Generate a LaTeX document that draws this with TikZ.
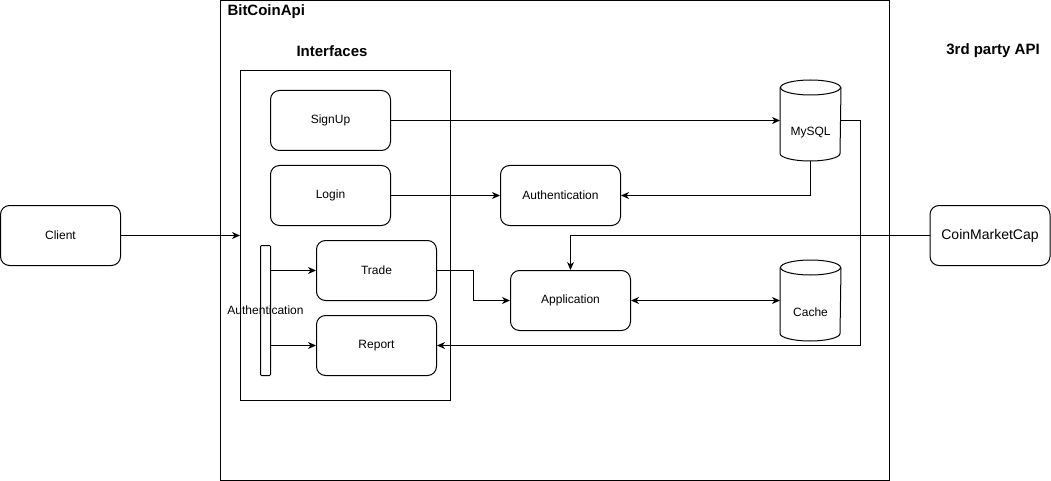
\documentclass[tikz,border=0pt]{standalone}
\usepackage{fontspec}
\setmainfont{Liberation Sans}
\usetikzlibrary{arrows.meta}
\begin{document}
\begin{tikzpicture}[x=1pt,y=-1pt,
  line width=1pt,
  every node/.style={font=\fontsize{12}{14}\selectfont},
  box/.style={draw,rounded corners=9pt,minimum width=120pt,minimum height=60pt,inner sep=0pt},
  frame/.style={draw,inner sep=0pt},
  title/.style={font=\fontsize{15}{17}\selectfont\bfseries,inner sep=0pt},
  arr/.style={-{Stealth[length=8pt,width=7pt,inset=2.5pt]}},
  darr/.style={{Stealth[length=8pt,width=7pt,inset=2.5pt]}-{Stealth[length=8pt,width=7pt,inset=2.5pt]}},
  cyl/.style={minimum width=60pt,minimum height=80pt,inner sep=0pt}
]
\useasboundingbox (0,0) rectangle (1051,481);
% frames
\draw (220.5,0.5) rectangle (889.5,480.5);
\node[title,anchor=west] (bca) at (227,12) {BitCoinApi};
\node[title] (ifl) at (332,51) {Interfaces};
\node[title] (tpl) at (993,51) {3rd party API};
\node[frame,minimum width=210pt,minimum height=330pt] (ifc) at (345.5,235.5) {};
% boxes
\node[box] (client) at (60.5,235.5) {Client};
\node[box] (signup) at (330.5,120.5) {SignUp};
\node[box] (login) at (330.5,195.5) {Login};
\node[box] (trade) at (376.5,270.5) {Trade};
\node[box] (report) at (376.5,345.5) {Report};
\node[box] (auth) at (560.5,195.5) {Authentication};
\node[box] (app) at (570.5,300.5) {Application};
\node[box,font=\fontsize{14}{16}\selectfont] (cmc) at (990,235.5) {CoinMarketCap};
% auth bar
\node[draw,rounded corners=1pt,minimum width=10pt,minimum height=130pt,inner sep=0pt] (abar) at (265.5,310.5) {};
\node (abarl) at (265.5,310.5) {Authentication};
% cylinders
\node[cyl] (mysql) at (810.5,120.5) {};
\node[cyl] (cache) at (810.5,300.5) {};
\foreach \c in {mysql,cache}{
  \draw ([yshift=-7.5pt]\c.north west) -- ([yshift=7.5pt]\c.south west)
     arc[start angle=180,end angle=360,x radius=30pt,y radius=7.5pt]
     -- ([yshift=-7.5pt]\c.north east);
  \draw ([yshift=-7.5pt]\c.north) ellipse[x radius=30pt,y radius=7.5pt];
}
\node (mysqlt) at (810.5,132.5) {MySQL};
\node (cachet) at (810.5,312.5) {Cache};
% connectors
\draw[arr] (client.east) -- (ifc.west |- client.east);
\draw[arr] (signup.east) -- (mysql.west |- signup.east);
\draw[arr] (login.east) -- (auth.west);
\draw[arr] (mysql.south) |- (auth.east);
\coordinate (r1) at (860.5,120.5);
\draw[arr] (mysql.east |- r1) -- (r1) |- (report.east);
\coordinate (c1) at (570.5,235.5);
\draw[arr] (cmc.west) -- (c1) -- (app.north);
\coordinate (t1) at (473.5,270.5);
\draw[arr] (trade.east) -- (t1) |- (app.west);
\draw[darr] (app.east) -- (cache.west);
\draw[arr] (abar.east |- trade.west) -- (trade.west);
\draw[arr] (abar.east |- report.west) -- (report.west);
\end{tikzpicture}
\end{document}
